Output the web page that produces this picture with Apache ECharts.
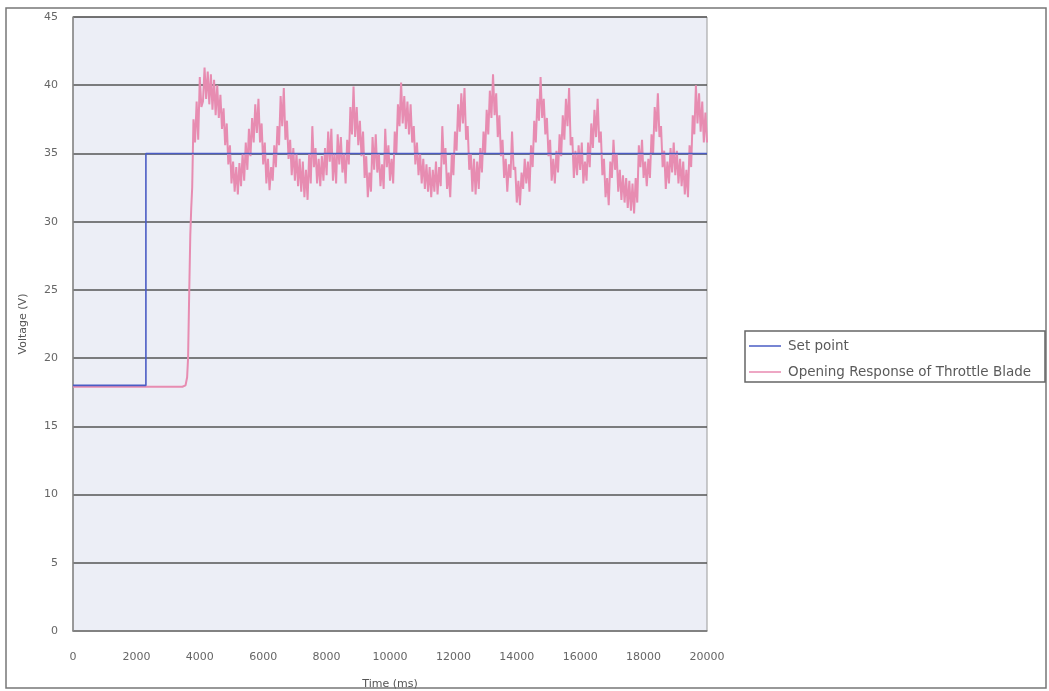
<!DOCTYPE html>
<html>
<head>
<meta charset="utf-8">
<title>Throttle Blade Opening Response</title>
<script src="https://cdn.jsdelivr.net/npm/echarts@6/dist/echarts.min.js"></script>
<style>
  html, body { margin: 0; padding: 0; background: #ffffff; }
  #chart { width: 1049px; height: 691px; }
</style>
</head>
<body>
<div id="chart"></div>
<script>
// Axis ticks
const xTicks = [0, 2000, 4000, 6000, 8000, 10000, 12000, 14000, 16000, 18000, 20000];
const yTicks = [0, 5, 10, 15, 20, 25, 30, 35, 40, 45];

// Series names
const seriesNames = ['Set point', 'Opening Response of Throttle Blade'];

// Commanded voltage step: [time ms, volts]
const setPoint = [[0, 18], [2300, 18], [2300, 35], [20000, 35]];

// Measured response: flat start, rise, then noisy oscillation around 35 V
const response = [
  [0, 17.9], [3450, 17.9], [3550, 18.0], [3600, 18.6], [3630, 20], [3660, 24], [3700, 29], [3730, 31], [3760, 32.5],
  [3800, 37.5], [3850, 35.8], [3900, 38.8], [3950, 36.0], [4000, 40.6], [4050, 38.4], [4100, 38.8], [4150, 41.3],
  [4200, 39.0], [4250, 41.0], [4300, 38.6], [4350, 40.8], [4400, 38.2], [4450, 40.4], [4500, 37.8], [4550, 40.0],
  [4600, 37.6], [4650, 39.3], [4700, 36.8], [4750, 38.3], [4800, 35.6], [4850, 37.2], [4900, 34.2], [4950, 35.6],
  [5000, 32.8], [5050, 34.4], [5100, 32.2], [5150, 34.0], [5200, 32.0], [5250, 34.3], [5300, 32.6], [5350, 35.0],
  [5400, 33.0], [5450, 35.8], [5500, 33.8], [5550, 36.8], [5600, 34.8], [5650, 37.6], [5700, 35.8], [5750, 38.6],
  [5800, 36.5], [5850, 39.0], [5900, 35.8], [5950, 37.2], [6000, 34.2], [6050, 35.8], [6100, 32.8], [6150, 34.6],
  [6200, 32.3], [6250, 34.0], [6300, 33.0], [6350, 35.6], [6400, 34.0], [6450, 37.0], [6500, 35.6], [6550, 39.2],
  [6600, 37.0], [6650, 39.8], [6700, 36.0], [6750, 37.4], [6800, 34.6], [6850, 36.0], [6900, 33.4], [6950, 35.4],
  [7000, 33.0], [7050, 35.0], [7100, 32.6], [7150, 34.6], [7200, 32.2], [7250, 34.4], [7300, 31.8], [7350, 33.8],
  [7400, 31.6], [7450, 35.0], [7500, 32.8], [7550, 37.0], [7600, 34.0], [7650, 35.4], [7700, 32.8], [7750, 34.6],
  [7800, 32.6], [7850, 34.8], [7900, 33.0], [7950, 35.4], [8000, 33.4], [8050, 36.6], [8100, 34.4], [8150, 36.8],
  [8200, 33.0], [8250, 35.0], [8300, 32.8], [8350, 36.4], [8400, 34.2], [8450, 36.2], [8500, 33.6], [8550, 35.0],
  [8600, 32.8], [8650, 36.0], [8700, 34.2], [8750, 38.4], [8800, 36.4], [8850, 39.9], [8900, 36.2], [8950, 38.4],
  [9000, 35.6], [9050, 37.4], [9100, 34.8], [9150, 36.6], [9200, 33.2], [9250, 34.8], [9300, 31.8], [9350, 33.6],
  [9400, 32.2], [9450, 36.2], [9500, 33.8], [9550, 36.4], [9600, 33.6], [9650, 35.0], [9700, 32.6], [9750, 34.2],
  [9800, 32.4], [9850, 36.8], [9900, 34.0], [9950, 35.6], [10000, 33.0], [10050, 34.6], [10100, 32.8], [10150, 36.6],
  [10200, 35.0], [10250, 38.6], [10300, 37.0], [10350, 40.2], [10400, 37.2], [10450, 39.2], [10500, 36.8], [10550, 38.8],
  [10600, 36.4], [10650, 38.6], [10700, 35.8], [10750, 37.0], [10800, 34.2], [10850, 35.8], [10900, 33.4], [10950, 35.0],
  [11000, 32.8], [11050, 34.6], [11100, 32.4], [11150, 34.2], [11200, 32.2], [11250, 34.0], [11300, 31.8], [11350, 33.8],
  [11400, 32.2], [11450, 34.4], [11500, 32.0], [11550, 34.0], [11600, 32.6], [11650, 37.0], [11700, 34.2], [11750, 35.4],
  [11800, 32.4], [11850, 33.6], [11900, 31.8], [11950, 35.0], [12000, 33.4], [12050, 36.6], [12100, 35.2], [12150, 38.6],
  [12200, 36.6], [12250, 39.4], [12300, 37.2], [12350, 39.8], [12400, 36.0], [12450, 37.0], [12500, 33.8], [12550, 35.0],
  [12600, 32.2], [12650, 34.6], [12700, 32.0], [12750, 34.4], [12800, 32.4], [12850, 35.4], [12900, 33.6], [12950, 36.6],
  [13000, 35.0], [13050, 38.2], [13100, 36.4], [13150, 39.6], [13200, 37.6], [13250, 40.8], [13300, 37.8], [13350, 39.4],
  [13400, 36.2], [13450, 37.8], [13500, 34.8], [13550, 36.0], [13600, 33.2], [13650, 34.6], [13700, 32.2], [13750, 34.2],
  [13800, 33.2], [13850, 36.6], [13900, 33.8], [13950, 34.0], [14000, 31.4], [14050, 33.0], [14100, 31.2], [14150, 33.6],
  [14200, 32.4], [14250, 34.6], [14300, 32.8], [14350, 34.4], [14400, 32.2], [14450, 35.6], [14500, 34.0], [14550, 37.4],
  [14600, 35.8], [14650, 39.0], [14700, 37.4], [14750, 40.6], [14800, 37.6], [14850, 39.0], [14900, 36.4], [14950, 37.6],
  [15000, 34.8], [15050, 36.0], [15100, 33.0], [15150, 34.6], [15200, 32.8], [15250, 35.2], [15300, 33.6], [15350, 36.4],
  [15400, 34.8], [15450, 37.8], [15500, 36.0], [15550, 39.0], [15600, 37.0], [15650, 39.8], [15700, 35.6], [15750, 36.2],
  [15800, 33.2], [15850, 35.2], [15900, 33.4], [15950, 35.6], [16000, 33.8], [16050, 35.8], [16100, 32.8], [16150, 34.4],
  [16200, 33.0], [16250, 35.8], [16300, 34.0], [16350, 37.2], [16400, 35.4], [16450, 38.2], [16500, 36.2], [16550, 39.0],
  [16600, 35.8], [16650, 36.6], [16700, 33.4], [16750, 34.6], [16800, 31.8], [16850, 33.2], [16900, 31.2], [16950, 34.4],
  [17000, 33.2], [17050, 36.0], [17100, 33.8], [17150, 35.0], [17200, 32.2], [17250, 33.8], [17300, 31.6], [17350, 33.4],
  [17400, 31.4], [17450, 33.2], [17500, 31.0], [17550, 33.0], [17600, 30.8], [17650, 32.8], [17700, 30.6], [17750, 33.2],
  [17800, 31.4], [17850, 35.6], [17900, 34.0], [17950, 36.0], [18000, 33.2], [18050, 34.4], [18100, 32.6], [18150, 34.6],
  [18200, 33.2], [18250, 36.4], [18300, 35.0], [18350, 38.4], [18400, 36.6], [18450, 39.4], [18500, 36.2], [18550, 37.0],
  [18600, 34.0], [18650, 35.2], [18700, 32.4], [18750, 34.4], [18800, 32.8], [18850, 35.4], [18900, 33.6], [18950, 35.8],
  [19000, 33.4], [19050, 35.2], [19100, 32.8], [19150, 34.6], [19200, 32.6], [19250, 34.4], [19300, 32.0], [19350, 33.8],
  [19400, 31.8], [19450, 35.6], [19500, 34.0], [19550, 37.8], [19600, 36.4], [19650, 40.0], [19700, 37.2], [19750, 39.4],
  [19800, 36.6], [19850, 38.8], [19900, 35.8], [19950, 38.0], [20000, 35.8]
];

const FONT = '"DejaVu Sans", "Liberation Sans", sans-serif';
const chart = echarts.init(document.getElementById('chart'), null, { renderer: 'canvas' });

chart.setOption({
  backgroundColor: '#ffffff',
  animation: false,
  textStyle: { fontFamily: FONT },
  graphic: [
    {
      // outer chart frame
      type: 'rect',
      shape: { x: 6, y: 8, width: 1040, height: 680 },
      style: { fill: 'none', stroke: '#777777', lineWidth: 1.5 },
      silent: true,
      z: -1
    },
    {
      // legend frame
      type: 'rect',
      shape: { x: 745, y: 331, width: 300, height: 51 },
      style: { fill: '#ffffff', stroke: '#666666', lineWidth: 1.5 },
      silent: true,
      z: 0
    }
  ],
  grid: {
    left: 73, right: 342, top: 17, bottom: 60,
    containLabel: false,
    outerBoundsMode: 'none',
    show: true,
    backgroundColor: '#eceef6',
    borderColor: '#9a9a9a',
    borderWidth: 1
  },
  legend: {
    orient: 'vertical',
    left: 747, top: 337,
    data: seriesNames,
    icon: 'rect',
    itemWidth: 32, itemHeight: 1.5, itemGap: 12,
    padding: [2, 2, 2, 2],
    z: 5,
    textStyle: { fontFamily: FONT, fontSize: 13.5, color: '#5a5a5a', padding: [0, 0, 0, 2] }
  },
  xAxis: {
    type: 'value',
    min: xTicks[0], max: xTicks[xTicks.length - 1], interval: 2000,
    name: 'Time (ms)', nameLocation: 'middle', nameGap: 48,
    nameTextStyle: { fontFamily: FONT, fontSize: 11, color: '#555555' },
    axisLine: { show: true, lineStyle: { color: '#888888', width: 1.5 } },
    axisTick: { show: false },
    splitLine: { show: false },
    axisLabel: { margin: 21, fontFamily: FONT, fontSize: 11, color: '#666666', formatter: v => String(v) }
  },
  yAxis: {
    type: 'value',
    min: yTicks[0], max: yTicks[yTicks.length - 1], interval: 5,
    name: 'Voltage (V)', nameLocation: 'middle', nameGap: 44,
    nameTextStyle: { fontFamily: FONT, fontSize: 11, color: '#555555' },
    axisLine: { show: true, lineStyle: { color: '#888888', width: 1.5 } },
    axisTick: { show: false },
    splitLine: { show: true, lineStyle: { color: '#555555', width: 1.6 } },
    axisLabel: { margin: 15, fontFamily: FONT, fontSize: 11, color: '#666666' }
  },
  series: [
    {
      name: seriesNames[0],
      type: 'line',
      data: setPoint,
      showSymbol: false,
      itemStyle: { color: '#4a5cc4' },
      lineStyle: { color: '#4a5cc4', width: 1.6 },
      z: 4
    },
    {
      name: seriesNames[1],
      type: 'line',
      data: response,
      showSymbol: false,
      itemStyle: { color: '#e88ab0' },
      lineStyle: { color: '#e78cb1', width: 2 },
      z: 3
    }
  ]
});
</script>
</body>
</html>
